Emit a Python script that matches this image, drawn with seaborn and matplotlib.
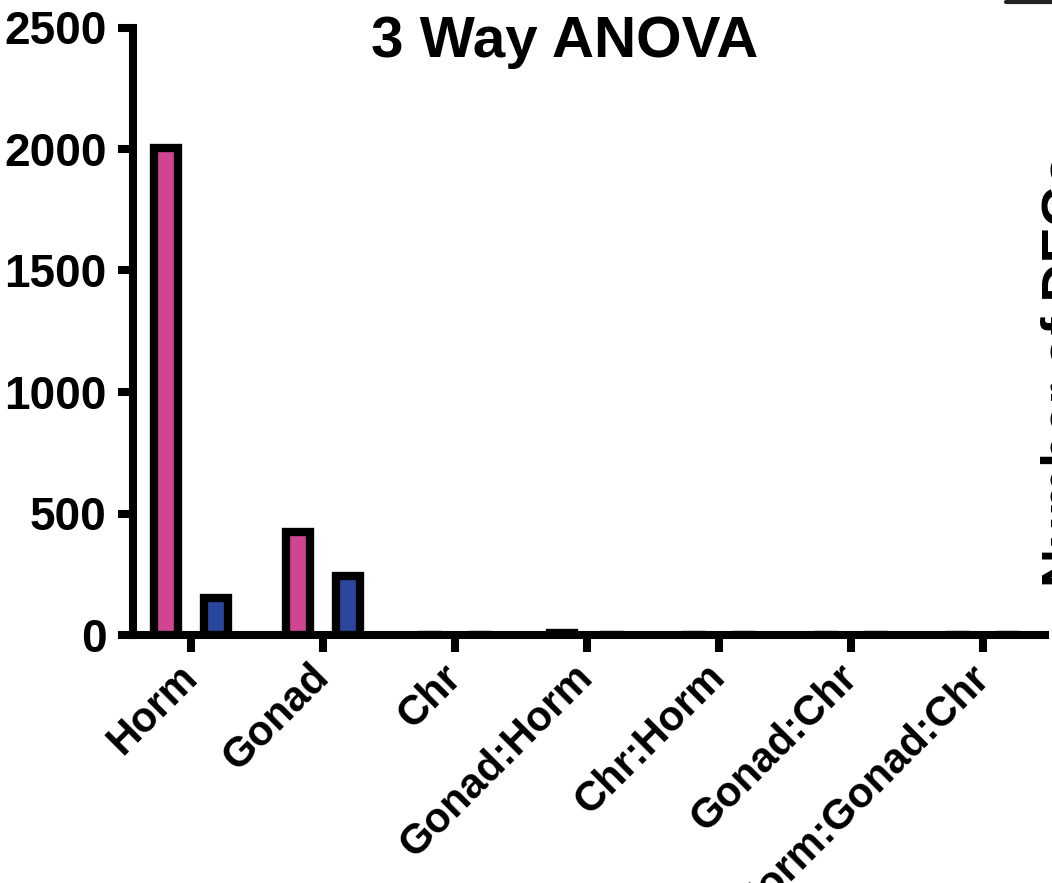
import matplotlib
matplotlib.use("Agg")
import matplotlib.pyplot as plt
from matplotlib.lines import Line2D
import seaborn as sns
import pandas as pd

# ---- data ----
terms = ["Horm", "Gonad", "Chr", "Gonad:Horm", "Chr:Horm", "Gonad:Chr", "Horm:Gonad:Chr"]
groups = ["Group A", "Group B"]
counts_a = [2003, 423, 0, 10, 0, 0, 0]
counts_b = [151, 242, 0, 0, 0, 0, 0]
yticks = [0, 500, 1000, 1500, 2000, 2500]

colors = ["#CF4592", "#2A479E"]

df = pd.DataFrame({
    "term": terms * 2,
    "count": counts_a + counts_b,
    "group": [groups[0]] * len(terms) + [groups[1]] * len(terms),
})

sns.set_style("white")
plt.rcParams["font.family"] = ["Liberation Sans", "DejaVu Sans"]
plt.rcParams["text.color"] = "black"
plt.rcParams["xtick.color"] = "black"
plt.rcParams["ytick.color"] = "black"
plt.rcParams["axes.labelcolor"] = "black"

W, H = 1052, 883
fig = plt.figure(figsize=(W / 100, H / 100), dpi=100)
ax = fig.add_axes([133 / W, 1 - 635 / H, 912 / W, 607.5 / H])

sns.barplot(data=df, x="term", y="count", hue="group", order=terms,
            hue_order=groups, palette=colors, saturation=1,
            width=0.757, gap=0.53, edgecolor="black", linewidth=6,
            errorbar=None, legend=False, ax=ax)

for p in ax.patches:
    p.set_joinstyle("miter")

ax.set_xlim(-0.44, 6.47)
ax.set_ylim(0, 2500)
ax.set_yticks(yticks)
ax.set_yticklabels([str(v) for v in yticks], fontsize=33, fontweight="bold", color="black")
ax.set_xlabel("")
ax.set_ylabel("")

for side in ["top", "right"]:
    ax.spines[side].set_visible(False)
for side in ["left", "bottom"]:
    ax.spines[side].set_linewidth(5.8)
    ax.spines[side].set_color("black")
    ax.spines[side].set_capstyle("projecting")
    ax.spines[side].set_zorder(5)

ax.tick_params(axis="y", width=5.8, length=11, direction="out", color="black", pad=8, left=True)
ax.tick_params(axis="x", width=5.8, length=12, direction="out", color="black", pad=14, bottom=True)

ax.set_xticks(range(len(terms)))
ax.set_xticklabels(terms, fontsize=30, fontweight="bold", rotation=45, color="black",
                   ha="right", va="center", rotation_mode="anchor")

fig.text(565 / W, 1 - 57 / H, "3 Way ANOVA", ha="center", va="baseline",
         fontsize=42, fontweight="bold", color="black")

# cropped neighbouring panel fragments
fig.text(1040 / W, 1 - 587 / H, "Number of DEGs", rotation=90, rotation_mode="anchor",
         ha="left", va="top", fontsize=39, fontweight="bold", color="black")
fig.add_artist(Line2D([1006 / W, 1.0], [1 - 2 / H, 1 - 2 / H], lw=3, color="#222222"))

fig.savefig("out.png", dpi=100)
